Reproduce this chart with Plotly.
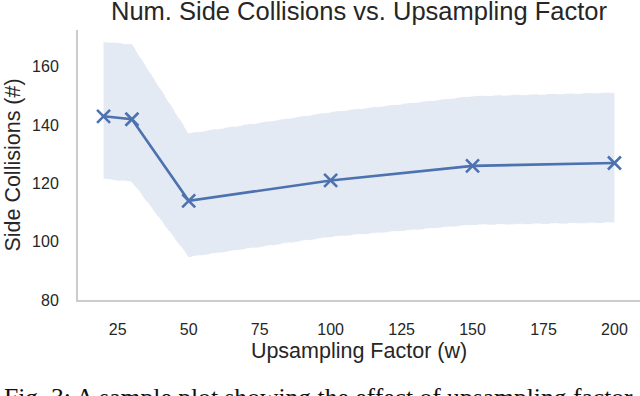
import plotly.graph_objects as go

# upsampling factor w
factors = [20, 30, 50, 100, 150, 200]
collisions = [143, 142, 114, 121, 126, 127]
upper = [168.6, 167.8, 137.2, 144.5, 150.0, 151.2]
lower = [121.5, 120.5, 94.7, 101.6, 105.7, 106.5]

title = "Num. Side Collisions vs. Upsampling Factor"
caption = "Fig. 3: A sample plot showing the effect of upsampling factor"

blue = "#4c72b0"
band = "#e4eaf3"
txt = "#262626"

fig = go.Figure()
fig.add_trace(go.Scatter(x=factors, y=lower, mode="lines",
                         line=dict(color="white", width=1, dash="dash"),
                         showlegend=False, hoverinfo="skip"))
fig.add_trace(go.Scatter(x=factors, y=upper, mode="lines", fill="tonexty",
                         fillcolor=band,
                         line=dict(color="white", width=1, dash="dash"),
                         showlegend=False, hoverinfo="skip"))
fig.add_trace(go.Scatter(x=factors, y=collisions, mode="lines+markers",
                         line=dict(color=blue, width=2.6),
                         marker=dict(symbol="x-thin", size=13,
                                     line=dict(color=blue, width=2.6)),
                         showlegend=False))

fig.update_layout(
    width=640, height=396,
    margin=dict(l=78, r=0, t=30, b=96, autoexpand=False),
    paper_bgcolor="white", plot_bgcolor="white",
    font=dict(family="Liberation Sans, Arial", color=txt),
    title=dict(text=title, x=0.5, xref="paper", y=1 - 11 / 396,
               yanchor="middle", automargin=False,
               font=dict(size=25.5, color=txt)),
)
fig.update_xaxes(range=[11, 209], tickvals=[25, 50, 75, 100, 125, 150, 175, 200],
                 showgrid=False, zeroline=False, showline=True, automargin=False,
                 linecolor="#cccccc", linewidth=2,
                 tickfont=dict(size=16, color=txt), ticklabelstandoff=14,
                 title=dict(text="Upsampling Factor (w)", font=dict(size=21.5),
                            standoff=6))
fig.update_yaxes(range=[80, 172.6], tickvals=[80, 100, 120, 140, 160],
                 showgrid=False, zeroline=False, showline=True, automargin=False,
                 linecolor="#cccccc", linewidth=2,
                 tickfont=dict(size=16, color=txt), ticklabelstandoff=14,
                 title=dict(text="Side Collisions (#)", font=dict(size=21.5),
                            standoff=6))

fig.add_annotation(text=caption, xref="paper", yref="paper",
                   x=(2 - 78) / 562, y=(300 - 381) / 270,
                   xanchor="left", yanchor="top", showarrow=False,
                   font=dict(family="Liberation Serif, Times New Roman",
                             size=25.6, color="#111111"))

# drop the default page margin so the figure sits at the window corner
fig.write_html("out.html", config={"displayModeBar": False},
               post_script="document.body.style.margin='0';")
